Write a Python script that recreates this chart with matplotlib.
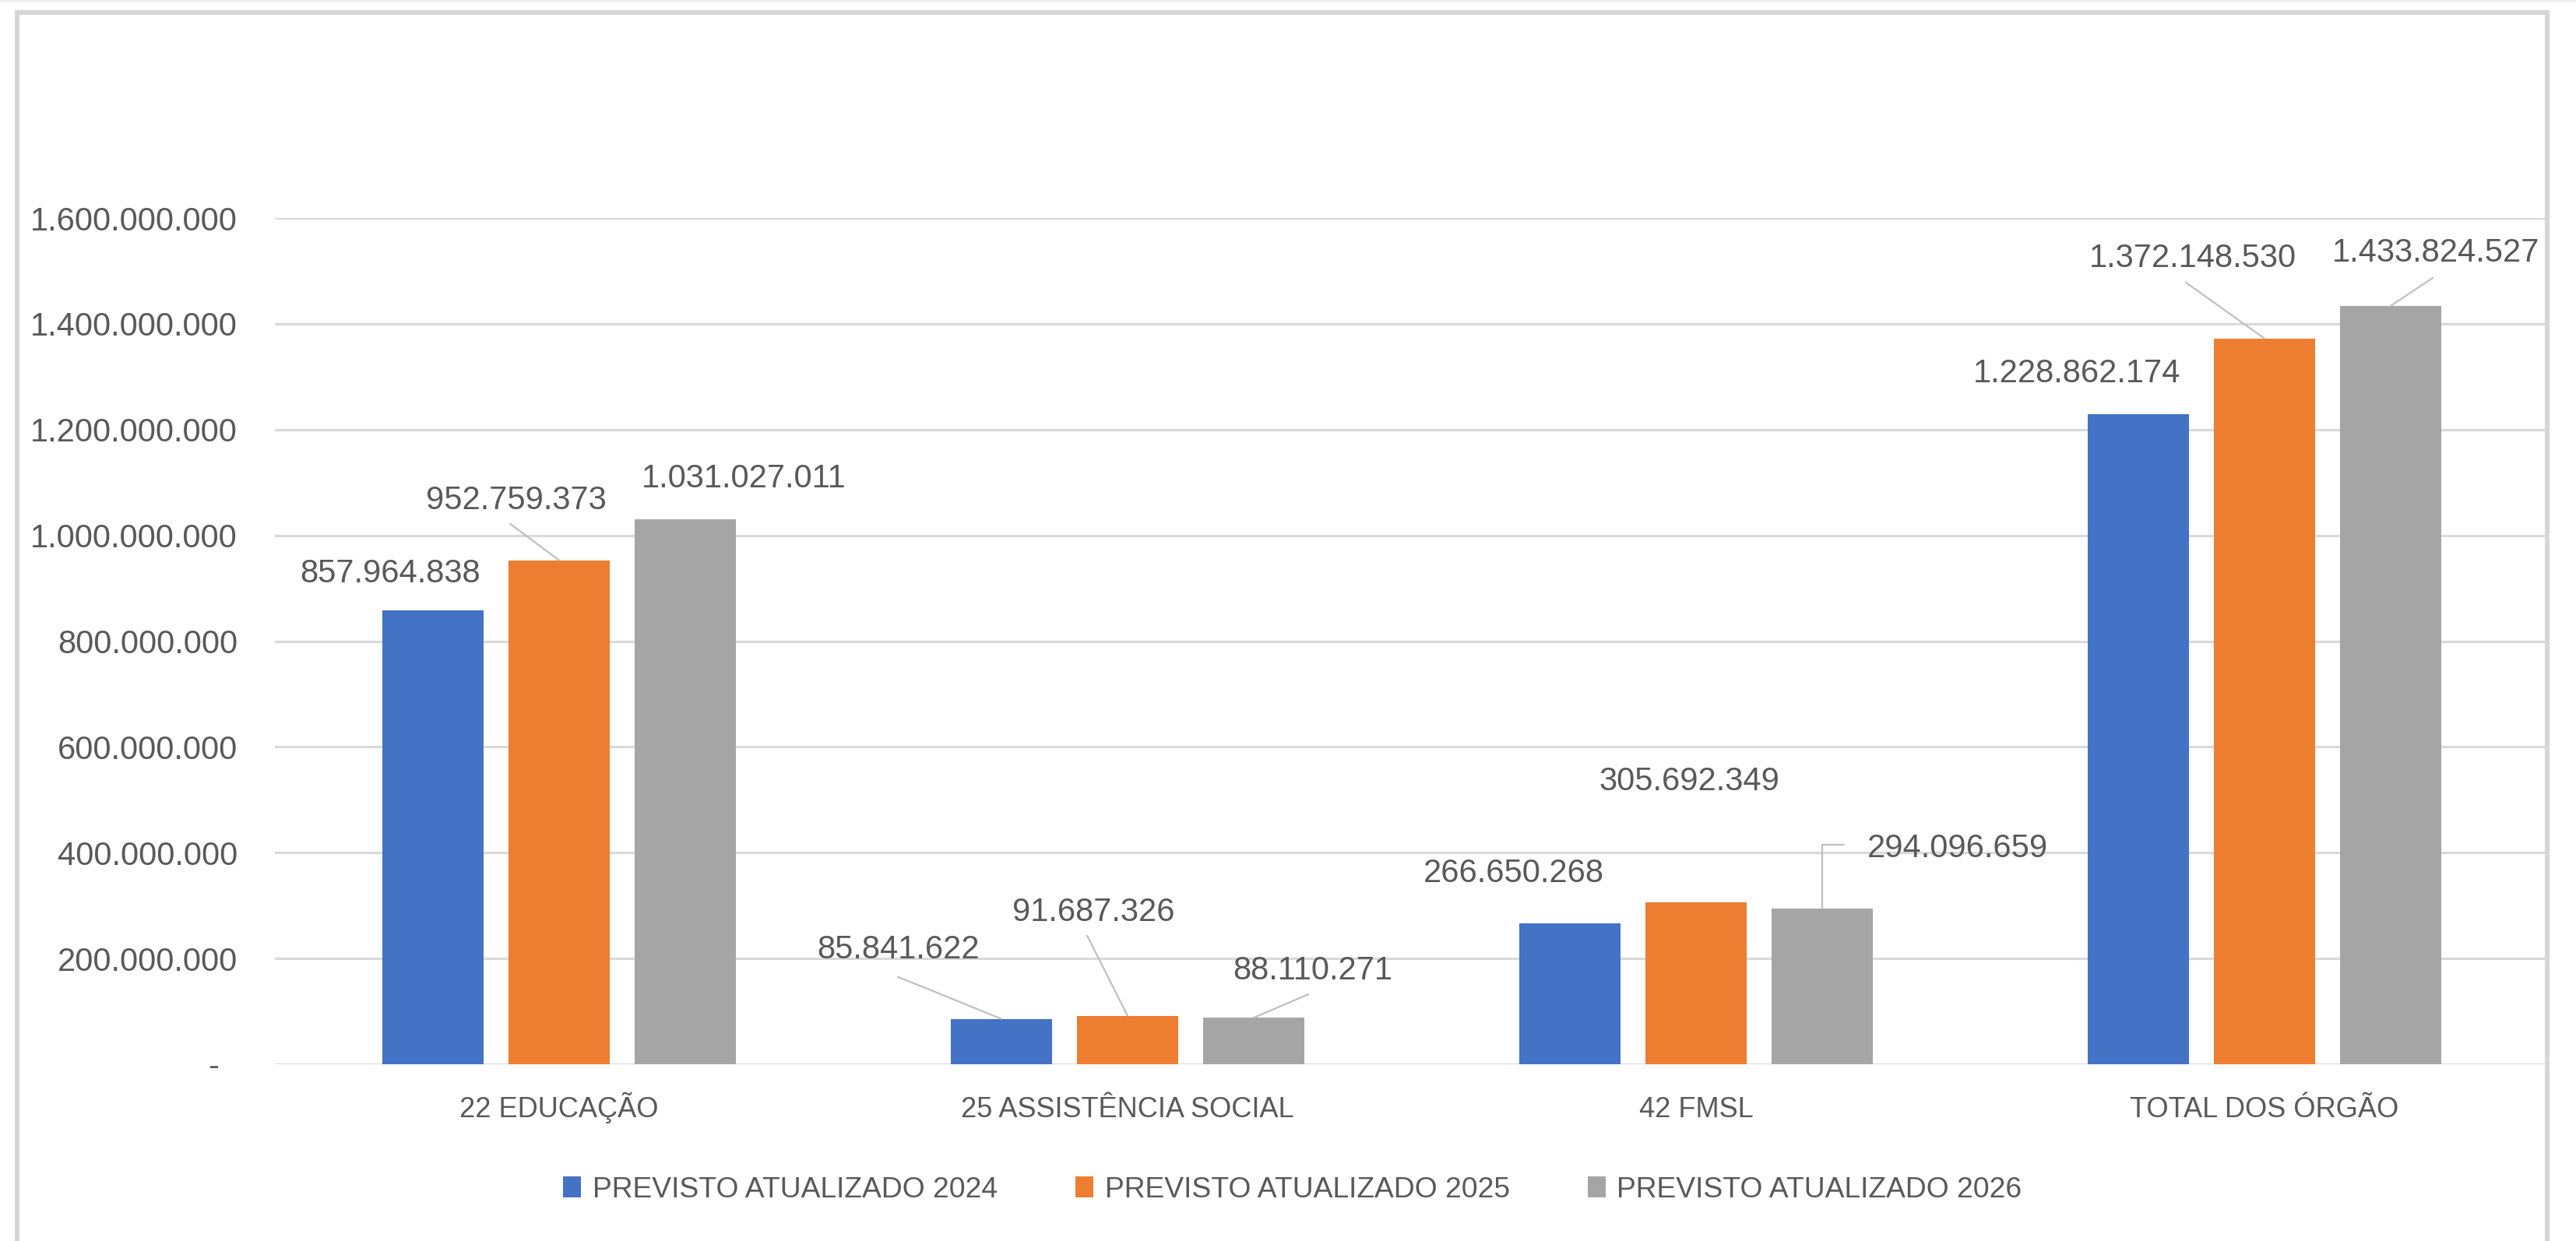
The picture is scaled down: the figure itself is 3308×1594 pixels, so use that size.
import matplotlib
matplotlib.use("Agg")
import matplotlib.pyplot as plt
from matplotlib.patches import Rectangle, Patch
import numpy as np

# ---------------- data ----------------
categories = ["22 EDUCAÇÃO", "25 ASSISTÊNCIA SOCIAL", "42 FMSL", "TOTAL DOS ÓRGÃO"]
series_names = ["PREVISTO ATUALIZADO 2024", "PREVISTO ATUALIZADO 2025", "PREVISTO ATUALIZADO 2026"]
values_2024 = [857964838, 85841622, 266650268, 1228862174]
values_2025 = [952759373, 91687326, 305692349, 1372148530]
values_2026 = [1031027011, 88110271, 294096659, 1433824527]
ytick_values = [0, 200000000, 400000000, 600000000, 800000000,
                1000000000, 1200000000, 1400000000, 1600000000]
ytick_labels = ["-  ", "200.000.000", "400.000.000", "600.000.000", "800.000.000",
                "1.000.000.000", "1.200.000.000", "1.400.000.000", "1.600.000.000"]

# ---------------- style ----------------
colors = ["#4472C4", "#ED7D31", "#A5A5A5"]
text_color = "#595959"
grid_color = "#D9D9D9"
leader_color = "#BFBFBF"
W, H, DPI = 3308, 1594, 100

# label offsets (pixels, relative to bar-top centre; y up) and optional leader start
label_offsets = {
    (0, 0): (-55, 47), (1, 0): (-55, 77), (2, 0): (75, 52),
    (0, 1): (-132, 89), (1, 1): (-44, 133), (2, 1): (76, 60),
    (0, 2): (-72, 64), (1, 2): (-9, 155), (2, 2): (174, 77),
    (0, 3): (-79, 52), (1, 3): (-92, 103), (2, 3): (58, 68),
}
leaders = {
    (1, 0): ((-63, 47), "arc3"),
    (0, 1): ((-133, 54), "arc3"),
    (1, 1): ((-52, 103), "arc3"),
    (2, 1): ((70, 30), "arc3"),
    (2, 2): ((28, 82), "angle,angleA=0,angleB=90,rad=0"),
    (1, 3): ((-101, 72), "arc3"),
    (2, 3): ((54, 36), "arc3"),
}

plt.rcParams["font.family"] = ["Liberation Sans", "DejaVu Sans"]

fig = plt.figure(figsize=(W / DPI, H / DPI), dpi=DPI)
fig.patch.set_facecolor("white")

ax = fig.add_axes([353 / W, 1 - 1367 / H, 2920 / W, 1087 / H])
ax.set_facecolor("white")

x = np.arange(len(categories))
series = [values_2024, values_2025, values_2026]
bar_w = 0.178
step = 0.222
for i, (vals, col, name) in enumerate(zip(series, colors, series_names)):
    ax.bar(x + (i - 1) * step, vals, width=bar_w, color=col, label=name, zorder=3)

ax.set_xlim(-0.5, len(categories) - 0.5)
ax.set_ylim(0, 1600000000)
ax.set_yticks(ytick_values)
ax.set_yticklabels(ytick_labels)
ax.set_xticks(x)
ax.set_xticklabels(categories)

for s in ax.spines.values():
    s.set_visible(False)
ax.yaxis.grid(True, color=grid_color, linewidth=2.2, zorder=0)
ax.set_axisbelow(True)
ax.tick_params(axis="y", length=0, pad=34.5, labelsize=30, labelcolor=text_color)
ax.tick_params(axis="x", length=0, pad=49, labelsize=26, labelcolor=text_color)
for t in ax.get_xticklabels():
    t.set_verticalalignment("baseline")

# data labels
for i, vals in enumerate(series):
    for j, v in enumerate(vals):
        xc = x[j] + (i - 1) * step
        dx, dy = label_offsets[(i, j)]
        txt = f"{v:,}".replace(",", ".")
        ax.annotate(txt, xy=(xc, v), xycoords="data", xytext=(dx, dy),
                    textcoords="offset pixels", ha="center", va="center",
                    fontsize=30, color=text_color, zorder=5, annotation_clip=False)
        if (i, j) in leaders:
            (lx, ly), cs = leaders[(i, j)]
            ax.annotate("", xy=(xc, v), xycoords="data", xytext=(lx, ly),
                        textcoords="offset pixels",
                        arrowprops=dict(arrowstyle="-", color=leader_color, lw=1.6,
                                        shrinkA=0, shrinkB=0, connectionstyle=cs),
                        zorder=4, annotation_clip=False)

# legend
handles = [Patch(facecolor=c, edgecolor="none") for c in colors]
fig.legend(handles, series_names, loc="center", bbox_to_anchor=(1660 / W, 1 - 1528 / H),
           ncol=3, frameon=False, fontsize=26.8, handlelength=0.6, handleheight=0.7,
           handletextpad=0.4, columnspacing=2.7, labelcolor=text_color)

# chart frame
fig.add_artist(Rectangle((22 / W, -0.05), (3271 - 22) / W, 1.05 - 16 / H,
                         transform=fig.transFigure, fill=False,
                         edgecolor="#D6D6D6", linewidth=4.3))
fig.add_artist(Rectangle((0, 1 - 2 / H), 1, 2 / H, transform=fig.transFigure,
                         facecolor="#ECECEC", edgecolor="none"))

fig.savefig("out.png", dpi=DPI, facecolor="white")
